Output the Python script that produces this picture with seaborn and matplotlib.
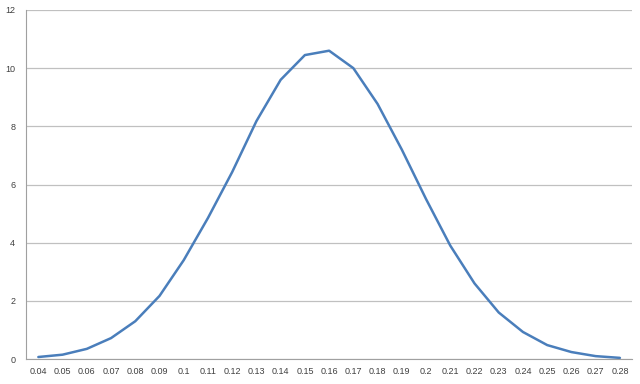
import numpy as np
import matplotlib
matplotlib.use("Agg")
import matplotlib.pyplot as plt
import seaborn as sns

# Data
categories = ['0.04', '0.05', '0.06', '0.07', '0.08', '0.09', '0.1', '0.11', '0.12',
              '0.13', '0.14', '0.15', '0.16', '0.17', '0.18', '0.19', '0.2', '0.21',
              '0.22', '0.23', '0.24', '0.25', '0.26', '0.27', '0.28']
values = [0.07, 0.15, 0.35, 0.72, 1.3, 2.17, 3.4, 4.85, 6.43, 8.18, 9.6, 10.45, 10.6,
          10.0, 8.77, 7.2, 5.5, 3.9, 2.6, 1.6, 0.93, 0.48, 0.24, 0.1, 0.04]
y_ticks = [0, 2, 4, 6, 8, 10, 12]

sns.set_style("white")
plt.rcParams['font.family'] = ['Liberation Sans', 'DejaVu Sans']

fig = plt.figure(figsize=(6.4, 3.84), dpi=100)
ax = fig.add_axes([0.041, 0.065, 0.9465, 0.909])

pos = np.arange(len(categories))
sns.lineplot(x=pos, y=values, ax=ax, color='#4A7EBB', linewidth=1.8)

ax.set_xlim(-0.5, len(categories) - 0.5)
ax.set_ylim(0, 12)
ax.set_yticks(y_ticks)
ax.set_xticks(pos)
ax.set_xticklabels(categories)
ax.set_xticks(np.arange(len(categories) + 1) - 0.5, minor=True)
ax.tick_params(axis='x', which='major', length=0, labelsize=6.5, pad=6, colors='#404040')
ax.tick_params(axis='x', which='minor', length=4, width=0.8, color='#A0A0A0', direction='out')
ax.tick_params(axis='y', length=0, labelsize=6.5, pad=8, colors='#404040')

ax.grid(axis='y', color='#C0C0C0', linewidth=0.9)
ax.set_axisbelow(True)
for s in ['top', 'right']:
    ax.spines[s].set_visible(False)
ax.spines['left'].set_color('#A0A0A0')
ax.spines['bottom'].set_color('#A0A0A0')
ax.spines['left'].set_linewidth(0.8)
ax.spines['bottom'].set_linewidth(0.8)

fig.savefig('out.png', dpi=100)
